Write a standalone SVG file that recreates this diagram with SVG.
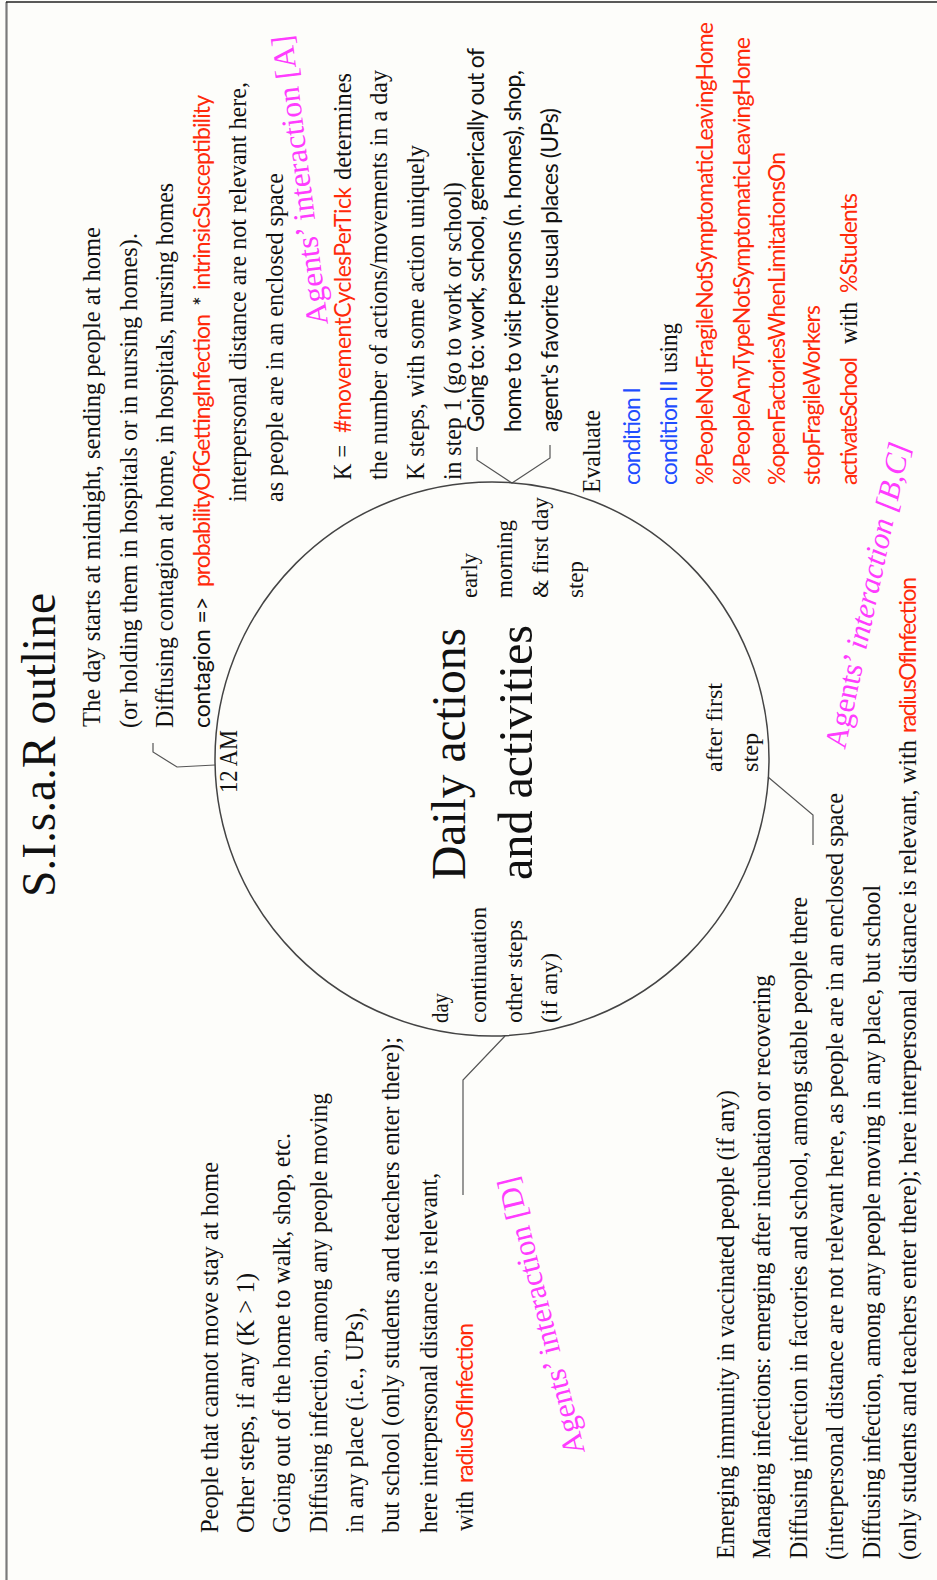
<svg xmlns="http://www.w3.org/2000/svg" width="937" height="1580" viewBox="0 0 937 1580">
<style>
text{font-family:"Liberation Serif","Times New Roman",serif;font-size:25px;fill:#111}
.sf{font-family:Lato,"Open Sans","Liberation Sans",sans-serif;font-size:23px}
.r{fill:#ff2a0a}
.b{fill:#1f4dff}
.m{fill:#ff3cff;font-size:31px}
.big{font-size:48px}
.c{font-size:24px}
.conn{fill:none;stroke:#555;stroke-width:1.2}
.ring{fill:none;stroke:#444;stroke-width:1.5}
</style>
<rect width="937" height="1580" fill="#fdfdfa"/>
<g id="frame">
<line x1="6.5" y1="2" x2="6.5" y2="1580" stroke="#7a7a7a" stroke-width="2.2"/>
<line x1="6" y1="2" x2="937" y2="2" stroke="#222" stroke-width="1.4"/>
</g>
<g transform="translate(0,1580) rotate(-90)">
<g id="title"><text class="big" x="683" y="55" textLength="304" lengthAdjust="spacingAndGlyphs">S.I.s.a.R outline</text></g>

<g id="connectors" class="conn">
<polyline points="815,215 813,177 828,153 837,153"/>
<polyline points="803,768 765,813 735,813"/>
<polyline points="544,505 500,463 385,463"/>
<polyline points="1133,477 1120,477 1097,512 1122,550 1135,550"/>
</g>

<g id="n-daily">
<circle class="ring" cx="821" cy="492" r="277"/>
<text class="big" x="700" y="465" textLength="252" lengthAdjust="spacingAndGlyphs">Daily actions</text>
<text class="big" x="700" y="532" textLength="255" lengthAdjust="spacingAndGlyphs">and activities</text>
<text x="787" y="237" font-size="22" textLength="63" lengthAdjust="spacingAndGlyphs">12 AM</text>
<text class="c" x="982" y="477" textLength="45" lengthAdjust="spacingAndGlyphs">early</text>
<text class="c" x="982" y="512" textLength="78" lengthAdjust="spacingAndGlyphs">morning</text>
<text class="c" x="982" y="548" textLength="101" lengthAdjust="spacingAndGlyphs">&amp; first day</text>
<text class="c" x="982" y="583" textLength="37" lengthAdjust="spacingAndGlyphs">step</text>
<text class="c" x="808" y="722" textLength="89" lengthAdjust="spacingAndGlyphs">after first</text>
<text class="c" x="808" y="758" textLength="39" lengthAdjust="spacingAndGlyphs">step</text>
<text class="c" x="557" y="448" textLength="30" lengthAdjust="spacingAndGlyphs">day</text>
<text class="c" x="557" y="486" textLength="116" lengthAdjust="spacingAndGlyphs">continuation</text>
<text class="c" x="557" y="522" textLength="103" lengthAdjust="spacingAndGlyphs">other steps</text>
<text class="c" x="557" y="557" textLength="70" lengthAdjust="spacingAndGlyphs">(if any)</text>
</g>

<g id="n-midnight">
<text x="853" y="100" textLength="500" lengthAdjust="spacingAndGlyphs">The day starts at midnight, sending people at home</text>
<text x="852" y="137" textLength="495" lengthAdjust="spacingAndGlyphs">(or holding them in hospitals or in nursing homes).</text>
<text x="852" y="173" textLength="545" lengthAdjust="spacingAndGlyphs">Diffusing contagion at home, in hospitals, nursing homes</text>
<text class="sf" x="852" y="210" textLength="131">contagion =&gt;</text>
<text class="sf r" x="993" y="210" textLength="273">probabilityOfGettingInfection</text>
<text class="sf" x="1274" y="210">*</text>
<text class="sf r" x="1290" y="210" textLength="195">intrinsicSusceptibility</text>
<text x="1078" y="246" textLength="420" lengthAdjust="spacingAndGlyphs">interpersonal distance are not relevant here,</text>
<text x="1078" y="283" textLength="329" lengthAdjust="spacingAndGlyphs">as people are in an enclosed space</text>
</g>

<g id="n-interactionA">
<text class="m" transform="translate(1256,328) rotate(-7.1)" textLength="292" lengthAdjust="spacingAndGlyphs">Agents’ interaction [A]</text>
</g>

<g id="n-steps">
<text x="1100" y="351" textLength="35" lengthAdjust="spacingAndGlyphs">K =</text>
<text class="sf r" x="1147" y="351" textLength="246">#movementCyclesPerTick</text>
<text x="1400" y="351" textLength="107" lengthAdjust="spacingAndGlyphs">determines</text>
<text x="1100" y="387" textLength="410" lengthAdjust="spacingAndGlyphs">the number of actions/movements in a day</text>
<text x="1100" y="424" textLength="335" lengthAdjust="spacingAndGlyphs">K steps, with some action uniquely</text>
<text x="1100" y="461" textLength="298" lengthAdjust="spacingAndGlyphs">in step 1 (go to work or school)</text>
</g>

<g id="n-going">
<text class="sf" x="1148" y="484" textLength="384">Going to: work, school, generically out of</text>
<text class="sf" x="1148" y="521" textLength="362">home to visit persons (n. homes), shop,</text>
<text class="sf" x="1148" y="558" textLength="324">agent's favorite usual places (UPs)</text>
</g>

<g id="n-evaluate">
<text x="1087" y="600" textLength="83" lengthAdjust="spacingAndGlyphs">Evaluate</text>
<text class="sf b" x="1095" y="640" textLength="98">condition I</text>
<text class="sf b" x="1095" y="677" textLength="105">condition II</text>
<text x="1207" y="677" textLength="50" lengthAdjust="spacingAndGlyphs">using</text>
<text class="sf r" x="1095" y="713" textLength="463">%PeopleNotFragileNotSymptomaticLeavingHome</text>
<text class="sf r" x="1095" y="750" textLength="448">%PeopleAnyTypeNotSymptomaticLeavingHome</text>
<text class="sf r" x="1095" y="785" textLength="333">%openFactoriesWhenLimitationsOn</text>
<text class="sf r" x="1095" y="820" textLength="180">stopFragileWorkers</text>
<text class="sf r" x="1095" y="857" textLength="128">activateSchool</text>
<text x="1236" y="857" textLength="42" lengthAdjust="spacingAndGlyphs">with</text>
<text class="sf r" x="1287" y="857" textLength="100">%Students</text>
</g>

<g id="n-interactionBC">
<text class="m" transform="translate(830,845) rotate(12)" textLength="312" lengthAdjust="spacingAndGlyphs">Agents’ <tspan font-style="italic">interaction [B,C]</tspan></text>
</g>

<g id="n-continuation">
<text x="47" y="218" textLength="371" lengthAdjust="spacingAndGlyphs">People that cannot move stay at home</text>
<text x="47" y="254" textLength="260" lengthAdjust="spacingAndGlyphs">Other steps, if any (K &gt; 1)</text>
<text x="47" y="290" textLength="400" lengthAdjust="spacingAndGlyphs">Going out of the home to walk, shop, etc.</text>
<text x="47" y="327" textLength="440" lengthAdjust="spacingAndGlyphs">Diffusing infection, among any people moving</text>
<text x="47" y="363" textLength="226" lengthAdjust="spacingAndGlyphs">in any place (i.e., UPs),</text>
<text x="47" y="399" textLength="496" lengthAdjust="spacingAndGlyphs">but school (only students and teachers enter there);</text>
<text x="47" y="437" textLength="360" lengthAdjust="spacingAndGlyphs">here interpersonal distance is relevant,</text>
<text x="49" y="473" textLength="40" lengthAdjust="spacingAndGlyphs">with</text>
<text class="sf r" x="97" y="473" textLength="160">radiusOfInfection</text>
</g>

<g id="n-interactionD">
<text class="m" transform="translate(128,585) rotate(-13.8)" textLength="285" lengthAdjust="spacingAndGlyphs">Agents’ interaction [D]</text>
</g>

<g id="n-afterfirst">
<text x="21" y="734" textLength="469" lengthAdjust="spacingAndGlyphs">Emerging immunity in vaccinated people (if any)</text>
<text x="21" y="770" textLength="584" lengthAdjust="spacingAndGlyphs">Managing infections: emerging after incubation or recovering</text>
<text x="21" y="807" textLength="662" lengthAdjust="spacingAndGlyphs">Diffusing infection in factories and school, among stable people there</text>
<text x="20" y="843" textLength="767" lengthAdjust="spacingAndGlyphs">(interpersonal distance are not relevant here, as people are in an enclosed space</text>
<text x="21" y="880" textLength="674" lengthAdjust="spacingAndGlyphs">Diffusing infection, among any people moving in any place, but school</text>
<text x="20" y="916" textLength="820" lengthAdjust="spacingAndGlyphs">(only students and teachers enter there); here interpersonal distance is relevant, with</text>
<text class="sf r" x="847" y="916" textLength="156">radiusOfInfection</text>
</g>
</g>
</svg>
